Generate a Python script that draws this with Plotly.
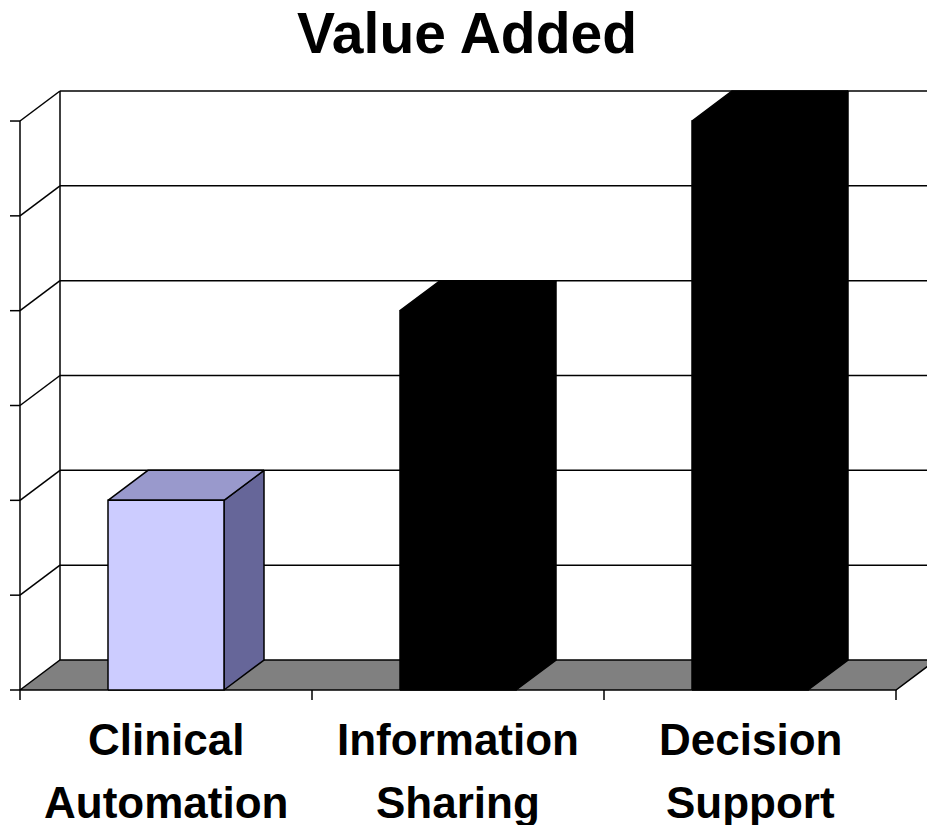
import plotly.graph_objects as go

# ---- data ----
categories = [["Clinical", "Automation"], ["Information", "Sharing"], ["Decision", "Support"]]
values = [2, 4, 6]
value_ticks = [0, 1, 2, 3, 4, 5, 6]

# ---- style ----
face_front = ["#CCCCFF", "#000000", "#000000"]
face_top = ["#9999CC", "#000000", "#000000"]
face_side = ["#666699", "#000000", "#000000"]
FONT = "Arial, 'Liberation Sans', sans-serif"

W, H = 927, 825
PX0, PXC = 20.0, 292.0      # pixel of category 0, pixels per category
PY0, PYV = 690.0, 94.83     # pixel of value 0, pixels per value unit
DX = 40.0 / PXC             # depth offset in category units
DY = 30.0 / PYV             # depth offset in value units
BAR_W = 116.0 / PXC
n = len(categories)
vmax = max(value_ticks)

fig = go.Figure()

def poly(xs, ys, fill, lw=1.5, lc="black"):
    fig.add_trace(go.Scatter(x=list(xs) + [xs[0]], y=list(ys) + [ys[0]], mode="lines",
                             fill="toself", fillcolor=fill,
                             line=dict(color=lc, width=lw), hoverinfo="skip"))

def line(xs, ys, lw=1.5, color="black"):
    fig.add_trace(go.Scatter(x=xs, y=ys, mode="lines", line=dict(color=color, width=lw),
                             hoverinfo="skip"))

# back wall gridlines
for v in value_ticks[1:]:
    line([DX, n + DX], [v + DY, v + DY])
# back wall left edge
line([DX, DX], [DY, vmax + DY])
# side wall gridlines
for v in value_ticks[1:]:
    line([0, DX], [v, v + DY])
# front vertical axis
line([0, 0], [0, vmax])
# value ticks
tick_len_x = 10.0 / PXC
for v in value_ticks:
    line([-tick_len_x, 0], [v, v])
# floor
poly([0, n, n + DX, DX], [0, 0, DY, DY], "#808080")
# category ticks
tick_len_y = 10.0 / PYV
for c in range(n + 1):
    line([c, c], [0, -tick_len_y])

# bars
for i, v in enumerate(values):
    x0 = i + 0.5 - BAR_W / 2
    x1 = x0 + BAR_W
    poly([x1, x1 + DX, x1 + DX, x1], [0, DY, v + DY, v], face_side[i])
    poly([x0, x1, x1 + DX, x0 + DX], [v, v, v + DY, v + DY], face_top[i])
    poly([x0, x1, x1, x0], [0, 0, v, v], face_front[i])

# title
fig.add_annotation(text="<b>Value Added</b>", xref="paper", yref="paper",
                   x=467 / W, y=1 - 33 / H, xanchor="center", yanchor="middle",
                   showarrow=False, font=dict(family=FONT, size=57, color="black"))

# category labels
for i, lines in enumerate(categories):
    cx = (PX0 + PXC * (i + 0.5)) / W
    for j, t in enumerate(lines):
        fig.add_annotation(text="<b>%s</b>" % t, xref="paper", yref="paper",
                           x=cx, y=1 - (739 + 63 * j) / H, xanchor="center", yanchor="middle",
                           showarrow=False, font=dict(family=FONT, size=44, color="black"))

fig.update_layout(
    width=W, height=H, margin=dict(l=0, r=0, t=0, b=0),
    paper_bgcolor="white", plot_bgcolor="white", showlegend=False,
    xaxis=dict(visible=False, range=[(0 - PX0) / PXC, (W - PX0) / PXC], fixedrange=True),
    yaxis=dict(visible=False, range=[(PY0 - H) / PYV, PY0 / PYV], fixedrange=True),
)

fig.write_html("out.html")
